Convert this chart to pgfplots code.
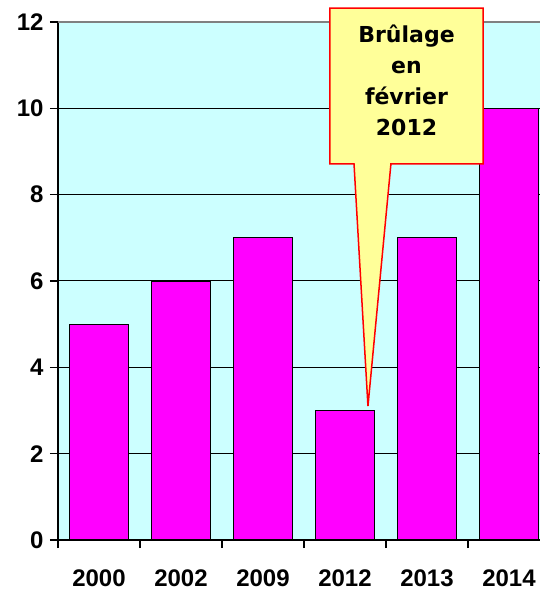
\documentclass[border=0pt]{standalone}
\usepackage{pgfplots}
\pgfplotsset{compat=1.18}
\usepackage{fontspec}
\setmainfont{Liberation Sans}
\newfontfamily\callfont{DejaVu Sans}
\definecolor{bgcyan}{HTML}{CCFFFF}
\definecolor{barmag}{HTML}{FF00FF}
\definecolor{noteyel}{HTML}{FFFF99}

\begin{document}
\begin{tikzpicture}
\begin{axis}[
    name=ax,
    scale only axis,
    width=482pt, height=518pt,
    xmin=-0.5, xmax=5.378,
    ymin=0, ymax=12,
    axis x line*=bottom,
    axis y line*=left,
    axis line style={black, line width=1.3pt},
    axis background/.style={fill=bgcyan},
    clip=false,
    ytick={0,2,...,12},
    ymajorgrids,
    major grid style={black, line width=1pt},
    xtick={0,...,5},
    xticklabels={2000,2002,2009,2012,2013,2014},
    minor xtick={-0.5,0.5,...,4.5},
    major x tick style={draw=none},
    tick align=outside,
    major tick length=8pt,
    minor tick length=8pt,
    tick style={black, line width=1.3pt},
    ticklabel style={font=\fontsize{24}{27}\selectfont\bfseries},
    yticklabel style={xshift=-3pt},
    xticklabel style={yshift=-18pt},
    /pgf/number format/assume math mode=true,
    ybar, bar width=59pt,
]
\addplot[fill=barmag, draw=black, line width=1.3pt, bar shift=0pt]
    coordinates {(0,5) (1,6) (2,7) (3,3) (4,7) (5,10)};
\end{axis}
\draw[gray, line width=1.5pt] (ax.north west) -- (ax.north east);
\begin{scope}[x=82pt, y=43.17pt, shift={(ax.south west)}, xshift=41pt]
\filldraw[fill=noteyel, draw=red, line width=1.5pt, line join=miter]
    (2.817,12.32) -- (4.683,12.32) -- (4.683,8.71) -- (3.56,8.71)
    -- (3.28,3.10) -- (3.11,8.71) -- (2.817,8.71) -- cycle;
\node[align=center, font=\callfont\bfseries\fontsize{22}{31}\selectfont]
    at (3.75,10.64) {Brûlage\\en\\février\\2012};
\end{scope}
\pgfresetboundingbox
\path[use as bounding box] ([shift={(-58pt,-50pt)}]ax.south west)
    rectangle ([shift={(0pt,22pt)}]ax.north east);
\end{tikzpicture}
\end{document}
